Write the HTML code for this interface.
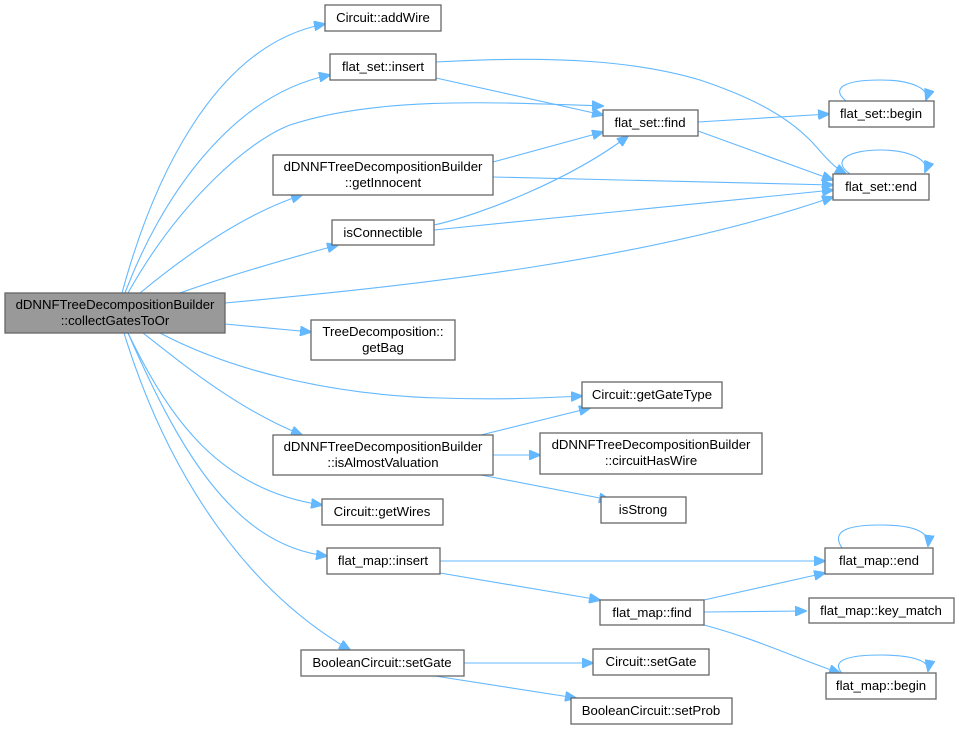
<!DOCTYPE html>
<html><head><meta charset="utf-8"><style>
html,body{margin:0;padding:0;background:#fff;}
svg{display:block;}
text{font-family:"Liberation Sans",Arial,sans-serif;font-size:13.2px;fill:#000;}
.b{fill:#fff;stroke:#666;stroke-width:1.3;}
.m{fill:#999;stroke:#666;stroke-width:1.3;}
.e{fill:none;stroke:#63b8ff;stroke-width:1.1;}
</style></head><body>
<svg width="959" height="729" viewBox="0 0 959 729" xmlns="http://www.w3.org/2000/svg">
<defs><marker id="a" markerWidth="12" markerHeight="10" refX="11" refY="5" orient="auto" markerUnits="userSpaceOnUse"><path d="M0,0 L12,5 L0,10 z" fill="#63b8ff" stroke="#63b8ff"/></marker></defs>
<g class="e" marker-end="url(#a)">
<path d="M122,293 C150,190 210,45 325,24"/>
<path d="M125,293 C160,200 230,95 330,75"/>
<path d="M128,293 C180,200 250,140 290,125 C380,95 510,103 603,106"/>
<path d="M140,293 C180,260 240,215 302,195"/>
<path d="M180,293 C230,275 290,258 338,245"/>
<path d="M225,303 C420,285 650,260 833,197"/>
<path d="M225,324 L311,332"/>
<path d="M160,333 C230,370 330,395 440,398 C500,400 540,398 582,396"/>
<path d="M143,333 C190,370 240,410 302,435"/>
<path d="M128,333 C170,420 220,490 322,505"/>
<path d="M128,333 C175,440 230,545 327,556"/>
<path d="M124,333 C160,450 230,580 350,650"/>
<path d="M436,62 C560,55 640,62 700,80 C760,100 790,120 810,140 C820,150 830,165 846,174"/>
<path d="M436,78 L603,115"/>
<path d="M493,162 L603,132"/>
<path d="M493,177 L833,185"/>
<path d="M434,225 C480,215 570,180 628,136"/>
<path d="M434,230 L833,190"/>
<path d="M698,122 L829,114"/>
<path d="M698,131 L833,180"/>
<path d="M850,174 C830,160 850,150 880,150 C910,150 930,160 925,172"/>
<path d="M846,101 C830,88 845,80 880,80 C910,80 930,88 926,100"/>
<path d="M481,435 L590,408"/>
<path d="M493,455 L540,455"/>
<path d="M481,475 L610,500"/>
<path d="M440,561 L825,561"/>
<path d="M440,573 L600,600"/>
<path d="M704,600 L825,573"/>
<path d="M704,612 L806,611"/>
<path d="M704,625 C760,640 800,660 840,673"/>
<path d="M842,548 C830,530 850,525 880,525 C910,525 930,530 928,546"/>
<path d="M842,673 C830,660 850,655 880,655 C910,655 930,660 928,671"/>
<path d="M464,663 L593,663"/>
<path d="M435,676 L576,698"/>
</g>
<rect class="m" x="5" y="293" width="220" height="40"/>
<text x="115" y="309" text-anchor="middle">dDNNFTreeDecompositionBuilder</text>
<text x="115" y="325" text-anchor="middle">::collectGatesToOr</text>
<rect class="b" x="325" y="5" width="116" height="26"/><text x="383" y="22" text-anchor="middle">Circuit::addWire</text>
<rect class="b" x="330" y="54" width="106" height="26"/><text x="383" y="71" text-anchor="middle">flat_set::insert</text>
<rect class="b" x="273" y="155" width="220" height="40"/>
<text x="383" y="171" text-anchor="middle">dDNNFTreeDecompositionBuilder</text>
<text x="383" y="187" text-anchor="middle">::getInnocent</text>
<rect class="b" x="332" y="220" width="102" height="25"/><text x="383" y="237" text-anchor="middle">isConnectible</text>
<rect class="b" x="311" y="320" width="144" height="40"/>
<text x="383" y="336" text-anchor="middle">TreeDecomposition::</text>
<text x="383" y="352" text-anchor="middle">getBag</text>
<rect class="b" x="603" y="110" width="95" height="26"/><text x="650" y="127" text-anchor="middle">flat_set::find</text>
<rect class="b" x="829" y="101" width="105" height="26"/><text x="881" y="118" text-anchor="middle">flat_set::begin</text>
<rect class="b" x="833" y="174" width="96" height="26"/><text x="881" y="191" text-anchor="middle">flat_set::end</text>
<rect class="b" x="582" y="382" width="140" height="26"/><text x="652" y="399" text-anchor="middle">Circuit::getGateType</text>
<rect class="b" x="273" y="435" width="220" height="40"/>
<text x="383" y="451" text-anchor="middle">dDNNFTreeDecompositionBuilder</text>
<text x="383" y="467" text-anchor="middle">::isAlmostValuation</text>
<rect class="b" x="540" y="433" width="222" height="41"/>
<text x="651" y="449" text-anchor="middle">dDNNFTreeDecompositionBuilder</text>
<text x="651" y="465" text-anchor="middle">::circuitHasWire</text>
<rect class="b" x="601" y="497" width="85" height="26"/><text x="643" y="514" text-anchor="middle">isStrong</text>
<rect class="b" x="322" y="499" width="121" height="26"/><text x="382" y="516" text-anchor="middle">Circuit::getWires</text>
<rect class="b" x="327" y="548" width="113" height="26"/><text x="383" y="565" text-anchor="middle">flat_map::insert</text>
<rect class="b" x="825" y="548" width="108" height="26"/><text x="879" y="565" text-anchor="middle">flat_map::end</text>
<rect class="b" x="600" y="600" width="104" height="25"/><text x="652" y="617" text-anchor="middle">flat_map::find</text>
<rect class="b" x="809" y="598" width="145" height="25"/><text x="881" y="615" text-anchor="middle">flat_map::key_match</text>
<rect class="b" x="301" y="650" width="163" height="26"/><text x="382" y="667" text-anchor="middle">BooleanCircuit::setGate</text>
<rect class="b" x="593" y="649" width="116" height="26"/><text x="651" y="666" text-anchor="middle">Circuit::setGate</text>
<rect class="b" x="826" y="673" width="110" height="26"/><text x="881" y="690" text-anchor="middle">flat_map::begin</text>
<rect class="b" x="571" y="698" width="161" height="26"/><text x="651" y="715" text-anchor="middle">BooleanCircuit::setProb</text>
</svg>
</body></html>
